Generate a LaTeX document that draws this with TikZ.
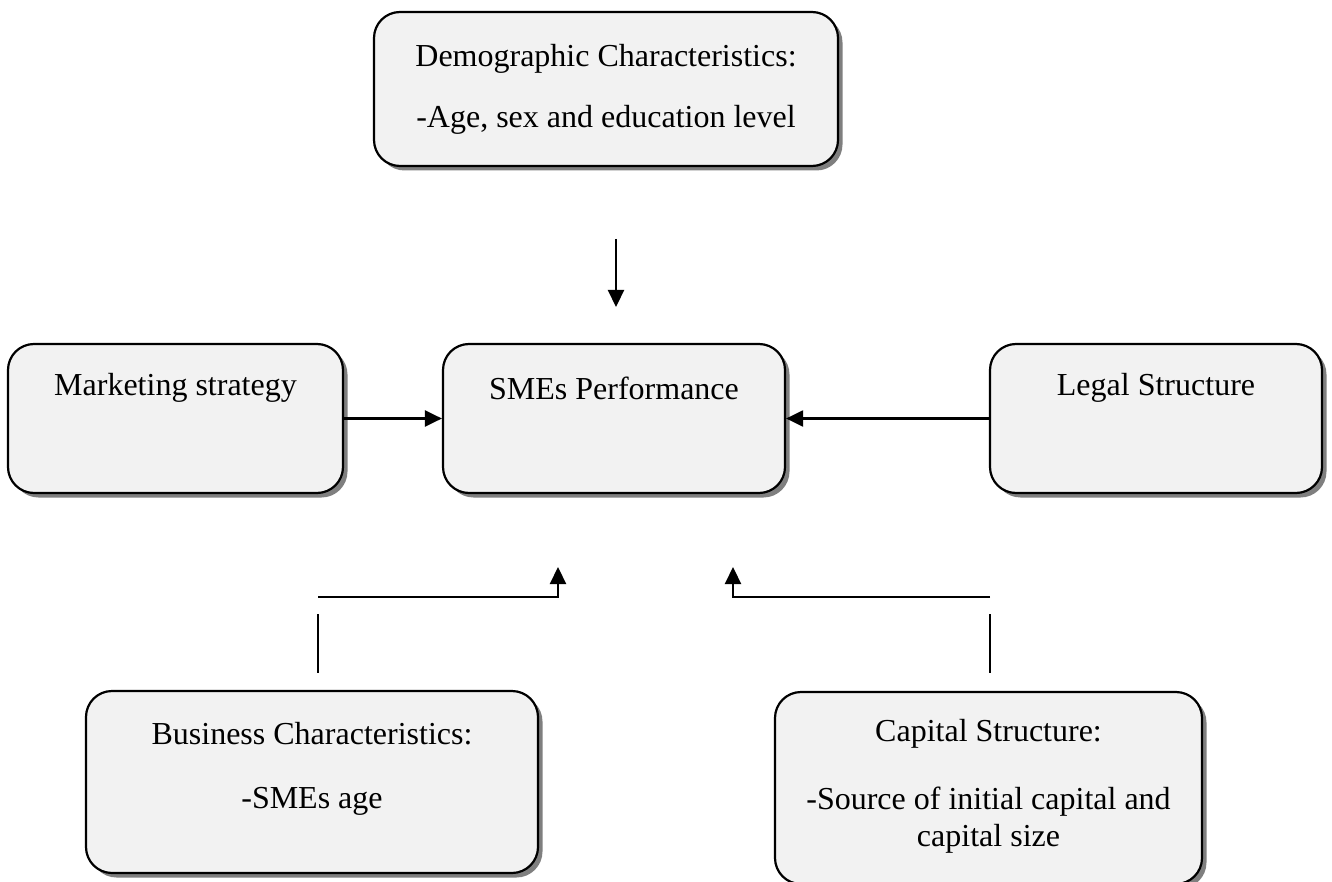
\documentclass[tikz,border=0pt]{standalone}
\usepackage{fontspec}
\setmainfont{Liberation Serif}
\usetikzlibrary{shadows,arrows.meta}
\definecolor{boxfill}{HTML}{F2F2F2}
\definecolor{shadowgray}{HTML}{7F7F7F}
\tikzset{
  box/.style={draw=black, line width=2.2pt, fill=boxfill, rounded corners=26pt,
    drop shadow={shadow xshift=4.5pt, shadow yshift=-4.5pt, fill=shadowgray, opacity=1},
    inner sep=0pt},
  txt/.style={inner sep=0pt, align=center, font=\fontsize{32}{37}\selectfont},
  conn/.style={line width=2.2pt, -{Triangle[length=17pt,width=16pt]}},
  plain/.style={line width=2.2pt}
}
\begin{document}
\begin{tikzpicture}[x=1pt,y=-1pt]
\useasboundingbox (0,0) rectangle (1332,882);
% boxes
\node[box, minimum width=464pt, minimum height=154pt] (demo) at (606,89) {};
\node[box, minimum width=335pt, minimum height=149pt] (mk) at (175.5,418.5) {};
\node[box, minimum width=342pt, minimum height=149pt] (sme) at (614,418.5) {};
\node[box, minimum width=332pt, minimum height=149pt] (legal) at (1156,418.5) {};
\node[box, minimum width=452pt, minimum height=182pt] (bus) at (312,782) {};
\node[box, minimum width=427pt, minimum height=192pt] (cap) at (988.5,788) {};
% texts
\node[txt] (demoA) at (606,59) {Demographic Characteristics:};
\node[txt] (demoB) at (606,120) {-Age, sex and education level};
\node[txt] (mkT) at (175.5,388) {Marketing strategy};
\node[txt] (smeT) at (614,388) {SMEs Performance};
\node[txt] (legalT) at (1156,388) {Legal Structure};
\node[txt] (busA) at (312,734) {Business Characteristics:};
\node[txt] (busB) at (312,801) {-SMEs age};
\node[txt] (capA) at (988.5,734) {Capital Structure:};
\node[txt] (capB) at (988.5,820) {-Source of initial capital and\\capital size};
% connector coordinates
\coordinate (d1) at (616,239);
\coordinate (d2) at (616,307);
\coordinate (bv1) at (318,614);
\coordinate (bv2) at (318,673);
\coordinate (bh1) at (318,597);
\coordinate (bh2) at (558,597);
\coordinate (bh3) at (558,567);
\coordinate (cv1) at (990,614);
\coordinate (cv2) at (990,673);
\coordinate (ch1) at (990,597);
\coordinate (ch2) at (733,597);
\coordinate (ch3) at (733,567);
% connectors
\draw[conn] (d1) -- (d2);
\draw[conn] (mk.east) -- (sme.west);
\draw[conn] (legal.west) -- (sme.east);
\draw[plain] (bv1) -- (bv2);
\draw[conn] (bh1) -- (bh2) -- (bh3);
\draw[plain] (cv1) -- (cv2);
\draw[conn] (ch1) -- (ch2) -- (ch3);
\end{tikzpicture}
\end{document}
